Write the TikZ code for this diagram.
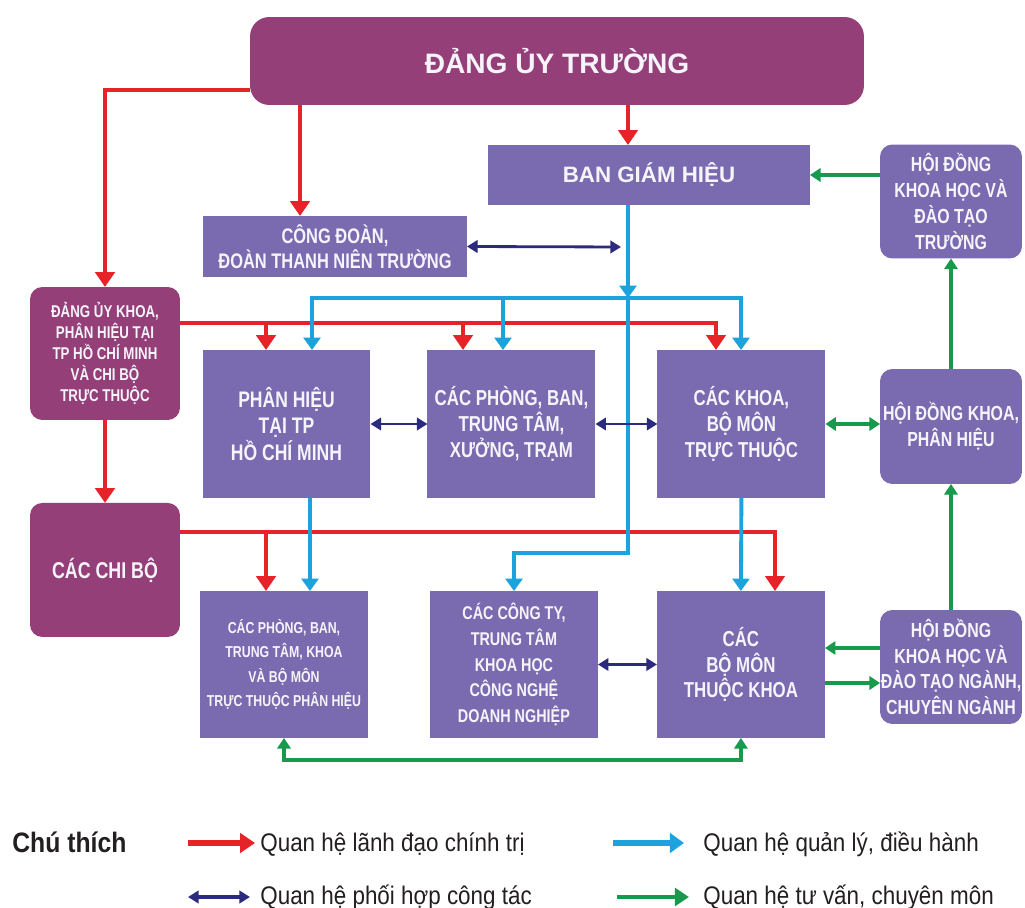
\documentclass[tikz,border=0pt]{standalone}
\usepackage{fontspec}
\setmainfont{Liberation Sans}
\newfontfamily\condfont[FakeStretch=0.78]{Liberation Sans}
\newfontfamily\legendfont[FakeStretch=0.88]{Liberation Sans}
\usepackage{xcolor}
\usetikzlibrary{arrows.meta,positioning,calc}

\definecolor{partycol}{HTML}{953F78}
\definecolor{unitcol}{HTML}{7A6BB0}
\definecolor{boxtext}{HTML}{F6F4FB}
\definecolor{leadcol}{HTML}{E52329}
\definecolor{managecol}{HTML}{1CA2DC}
\definecolor{coopcol}{HTML}{2C2A7C}
\definecolor{advisecol}{HTML}{189A4C}
\definecolor{legendtext}{HTML}{231F20}

\begin{document}
\begin{tikzpicture}[
    x=0.02cm, y=-0.02cm,
    party/.style={rectangle, rounded corners=7pt, fill=partycol, text=boxtext, align=center, inner sep=0pt, outer sep=0pt, minimum width=3cm, minimum height=2.66cm, font=\condfont\bfseries\fontsize{9.7}{12}\selectfont},
    unit/.style={rectangle, fill=unitcol, text=boxtext, align=center, inner sep=0pt, outer sep=0pt, minimum width=3.36cm, minimum height=2.96cm, font=\condfont\bfseries\fontsize{12.3}{14.7}\selectfont},
    council/.style={unit, rounded corners=7pt, minimum width=2.84cm, minimum height=2.28cm, font=\condfont\bfseries\fontsize{11.6}{14.7}\selectfont},
    lead/.style={draw=leadcol, line width=2.6pt, >={Triangle[length=8.5pt,width=11pt]}, ->},
    leadbus/.style={lead, line width=1.8pt},
    manage/.style={draw=managecol, line width=2.2pt, >={Triangle[length=7pt,width=9.5pt]}, ->},
    coop/.style={draw=coopcol, line width=1.6pt, >={Triangle[length=6pt,width=7pt]}, <->},
    advise/.style={draw=advisecol, line width=1.9pt, >={Triangle[length=6pt,width=7.5pt]}, ->},
    legtext/.style={anchor=base west, inner sep=0pt, text=legendtext, font=\legendfont\fontsize{14.5}{17}\selectfont}
]

\fill[white] (0,0) rectangle (1025,908);
\useasboundingbox (0,0) rectangle (1025,908);

% Top level
\node[party, minimum width=12.28cm, minimum height=1.76cm, rounded corners=11pt, font=\bfseries\fontsize{16}{19}\selectfont] (dut) at (557,61) {ĐẢNG ỦY TRƯỜNG};
\node[unit, minimum width=6.44cm, minimum height=1.2cm, font=\bfseries\fontsize{12.7}{15}\selectfont] (bgh) at (649,175) {BAN GIÁM HIỆU};
\node[unit, minimum width=5.28cm, minimum height=1.22cm, font=\condfont\bfseries\fontsize{12}{14.2}\selectfont] (congdoan) at (335,246.5) {CÔNG ĐOÀN,\\ĐOÀN THANH NIÊN TRƯỜNG};
\node[council] (hdtruong) at (951,201.5) {HỘI ĐỒNG\\KHOA HỌC VÀ\\ĐÀO TẠO\\TRƯỜNG};

% Party committees
\node[party] (duk) at (105,353.5) {ĐẢNG ỦY KHOA,\\PHÂN HIỆU TẠI\\TP HỒ CHÍ MINH\\VÀ CHI BỘ\\TRỰC THUỘC};
\node[party, below=1.66cm of duk, minimum height=2.68cm, font=\condfont\bfseries\fontsize{13}{15}\selectfont] (chibo) {CÁC CHI BỘ};

% Middle row
\node[unit, font=\condfont\bfseries\fontsize{12.8}{14.9}\selectfont] (phtp) at (286.5,424) {PHÂN HIỆU\\TẠI TP\\HỒ CHÍ MINH};
\node[unit, right=1.14cm of phtp] (phong) {CÁC PHÒNG, BAN,\\TRUNG TÂM,\\XƯỞNG, TRẠM};
\node[unit, right=1.24cm of phong] (khoa) {CÁC KHOA,\\BỘ MÔN\\TRỰC THUỘC};
\node[council, minimum height=2.3cm] (hdkhoa) at (951,426.5) {HỘI ĐỒNG KHOA,\\PHÂN HIỆU};

% Bottom row
\node[unit, minimum height=2.94cm, font=\condfont\bfseries\fontsize{9}{14}\selectfont] (phongph) at (284,664.5) {CÁC PHÒNG, BAN,\\TRUNG TÂM, KHOA\\VÀ BỘ MÔN\\TRỰC THUỘC PHÂN HIỆU};
\node[unit, right=1.24cm of phongph, minimum height=2.94cm, font=\condfont\bfseries\fontsize{10.5}{14.7}\selectfont] (congty) {CÁC CÔNG TY,\\TRUNG TÂM\\KHOA HỌC\\CÔNG NGHỆ\\DOANH NGHIỆP};
\node[unit, right=1.18cm of congty, minimum height=2.94cm] (bomon) {CÁC\\BỘ MÔN\\THUỘC KHOA};
\node[council] (hdnganh) at (951,667) {HỘI ĐỒNG\\KHOA HỌC VÀ\\ĐÀO TẠO NGÀNH,\\CHUYÊN NGÀNH};

% Political leadership
\draw[lead] (dut.south -| 628,0) -- (bgh.north -| 628,0);
\draw[lead] (dut.south -| 300,0) -- (congdoan.north -| 300,0);
\draw[lead] (dut.west |- 0,90) -| (duk.north);
\draw[lead] (duk.south) -- (chibo.north);
\draw[leadbus] (duk.east |- 0,323) -| (khoa.north -| 716,0);
\foreach \x/\n in {266/phtp, 463/phong}
    \draw[lead] (\x,323) -- (\n.north -| \x,0);
\draw[leadbus] (chibo.east |- 0,532) -| (bomon.north -| 775,0);
\draw[lead] (266,532) -- (phongph.north -| 266,0);

% Management
\draw[manage] (bgh.south -| 628,0) -- (628,298);
\draw[manage, line width=1.9pt] (628,298) -- (628,553) -| (congty.north -| 514,0);
\draw[manage, line width=1.9pt, <->] (phtp.north -| 312,0) |- (741,298) -- (khoa.north -| 741,0);
\draw[manage] (503,298) -- (phong.north -| 503,0);
\draw[manage] (phtp.south -| 310,0) -- (phongph.north -| 310,0);
\draw[manage] (khoa.south) -- (bomon.north);

% Coordination
\coordinate (cdend) at (621,247);
\draw[coop] (congdoan.east) -- (cdend);
\draw[coop] (phtp.east) -- (phong.west);
\draw[coop] (phong.east) -- (khoa.west);
\draw[coop] (congty.east) -- (bomon.west);

% Advisory
\draw[advise] (hdtruong.west |- bgh.east) -- (bgh.east);
\draw[advise, <->] (khoa.east) -- (khoa.east -| hdkhoa.west);
\draw[advise] (hdkhoa.north) -- (hdtruong.south);
\draw[advise] (hdnganh.north) -- (hdkhoa.south);
\draw[advise] (hdnganh.west |- 0,648) -- (bomon.east |- 0,648);
\draw[advise] (bomon.east |- 0,683) -- (hdnganh.west |- 0,683);
\draw[advise, <->] (phongph.south) |- (bomon.south |- 0,760) -- (bomon.south);

% Legend
\node[anchor=base west, inner sep=0pt, text=legendtext, font=\legendfont\bfseries\fontsize{16}{19}\selectfont] (legtitle) at (12,852) {Chú thích};
\node[legtext] (lglead) at (260,851) {Quan hệ lãnh đạo chính trị};
\node[legtext] (lgmanage) at (703,851) {Quan hệ quản lý, điều hành};
\node[legtext] (lgcoop) at (260,904) {Quan hệ phối hợp công tác};
\node[legtext] (lgadvise) at (703,904) {Quan hệ tư vấn, chuyên môn};
\coordinate (lgleada) at (188,843);
\coordinate (lgleadb) at (255,843);
\coordinate (lgmanagea) at (613,843);
\coordinate (lgmanageb) at (684,843);
\coordinate (lgcoopa) at (188,897);
\coordinate (lgcoopb) at (250,897);
\coordinate (lgadvisea) at (617,897);
\coordinate (lgadviseb) at (689,897);
\draw[lead, line width=3.4pt] (lgleada) -- (lgleadb);
\draw[manage, line width=3pt, >={Triangle[length=8pt,width=11pt]}] (lgmanagea) -- (lgmanageb);
\draw[coop, line width=1.8pt] (lgcoopa) -- (lgcoopb);
\draw[advise, line width=2.6pt, >={Triangle[length=8pt,width=10pt]}] (lgadvisea) -- (lgadviseb);

\end{tikzpicture}
\end{document}
